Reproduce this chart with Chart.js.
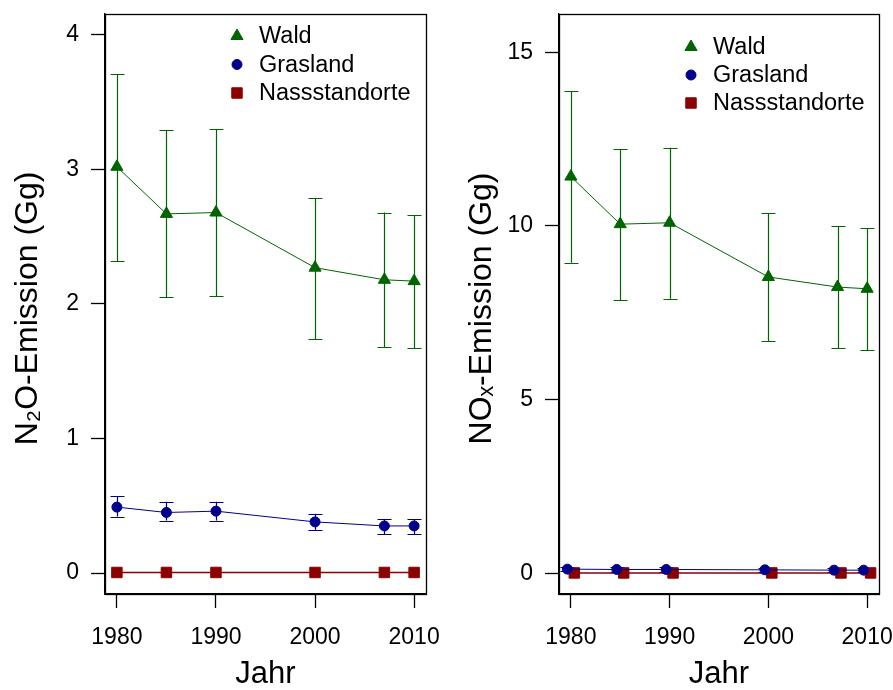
<!DOCTYPE html>
<html>
<head>
<meta charset="utf-8">
<script src="https://cdn.jsdelivr.net/npm/chart.js@4.4.1/dist/chart.umd.min.js"></script>
<style>
html, body { margin: 0; padding: 0; background: #fff; overflow: hidden; }
#leftBox { position: absolute; left: 0; top: 0; width: 446px; height: 690px; }
#rightBox { position: absolute; left: 446px; top: 0; width: 447px; height: 690px; }
</style>
</head>
<body>
<div id="leftBox"><canvas id="n2oGraph"></canvas></div>
<div id="rightBox"><canvas id="noxGraph"></canvas></div>
<script>
// Jahre der Inventur
const years = [1980, 1985, 1990, 2000, 2007, 2010];
const seriesNames = ['Wald', 'Grasland', 'Nassstandorte'];

// N2O (Gg)
const n2oWald = [3.02, 2.67, 2.68, 2.27, 2.18, 2.17];
const n2oWaldLow = [2.32, 2.05, 2.06, 1.74, 1.68, 1.67];
const n2oWaldHigh = [3.71, 3.29, 3.30, 2.79, 2.68, 2.66];
const n2oGras = [0.49, 0.45, 0.46, 0.38, 0.35, 0.35];
const n2oGrasLow = [0.42, 0.39, 0.39, 0.32, 0.29, 0.29];
const n2oGrasHigh = [0.57, 0.53, 0.53, 0.44, 0.40, 0.40];
const n2oNass = [0.004, 0.004, 0.004, 0.004, 0.004, 0.004];

// NOx (Gg)
const noxWald = [11.42, 10.05, 10.09, 8.53, 8.24, 8.19];
const noxWaldLow = [8.94, 7.87, 7.90, 6.69, 6.48, 6.43];
const noxWaldHigh = [13.88, 12.20, 12.25, 10.36, 10.00, 9.94];
const noxGras = [0.12, 0.11, 0.11, 0.10, 0.09, 0.09];
const noxGrasLow = [0.06, 0.05, 0.05, 0.05, 0.04, 0.04];
const noxGrasHigh = [0.18, 0.17, 0.17, 0.15, 0.14, 0.14];
const noxNass = [0.01, 0.01, 0.01, 0.01, 0.01, 0.01];

const yTicksN2O = [0, 1, 2, 3, 4];
const yTicksNOx = [0, 5, 10, 15];
const xTicks = [1980, 1990, 2000, 2010];

const FONT = '"Liberation Sans", Arial, Helvetica, sans-serif';
const waldColor = '#006400';
const grasColor = '#00008b';
const nassColor = '#8b0000';

// Fehlerbalken
const errorBars = {
    id: 'errorBars',
    beforeDatasetsDraw(chart) {
        const ctx = chart.ctx;
        const xs = chart.scales.x, ys = chart.scales.y;
        ctx.save();
        chart.data.datasets.forEach(ds => {
            if (!ds.errLow) return;
            ctx.strokeStyle = ds.borderColor;
            ctx.lineWidth = 1.2;
            ds.data.forEach((p, i) => {
                const x = Math.round(xs.getPixelForValue(p.x)) + 0.5;
                const y1 = ys.getPixelForValue(ds.errLow[i]);
                const y2 = ys.getPixelForValue(ds.errHigh[i]);
                ctx.beginPath();
                ctx.moveTo(x, y1); ctx.lineTo(x, y2);
                ctx.moveTo(x - 7, Math.round(y1) + 0.5); ctx.lineTo(x + 7, Math.round(y1) + 0.5);
                ctx.moveTo(x - 7, Math.round(y2) + 0.5); ctx.lineTo(x + 7, Math.round(y2) + 0.5);
                ctx.stroke();
            });
        });
        ctx.restore();
    }
};

// Rahmen um den Plotbereich
const plotBox = {
    id: 'plotBox',
    afterDraw(chart) {
        const a = chart.chartArea, ctx = chart.ctx;
        ctx.save();
        ctx.strokeStyle = '#000';
        ctx.lineWidth = 1.3;
        ctx.strokeRect(Math.round(a.left) + 0.5, Math.round(a.top) + 0.5,
            Math.round(a.right - a.left), Math.round(a.bottom - a.top));
        ctx.restore();
    }
};

// Legende im Plotbereich
const insideLegend = {
    id: 'insideLegend',
    afterDraw(chart, args, opts) {
        const ctx = chart.ctx;
        ctx.save();
        ctx.font = '23.5px ' + FONT;
        ctx.textBaseline = 'middle';
        ctx.textAlign = 'left';
        chart.data.datasets.forEach((ds, i) => {
            const y = opts.y + i * opts.gap;
            ctx.fillStyle = ds.backgroundColor;
            ctx.strokeStyle = ds.borderColor;
            Chart.helpers.drawPoint(ctx, {
                pointStyle: ds.pointStyle, radius: ds.pointRadius,
                borderWidth: 1, rotation: 0
            }, opts.x, y);
            ctx.fillStyle = '#000';
            ctx.fillText(ds.label, opts.x + 22, y + 1);
        });
        ctx.restore();
    }
};

function makeSeries(vals, dodge) {
    return vals.map((v, i) => ({x: years[i] + dodge, y: v}));
}

function makeDatasets(wald, waldLow, waldHigh, gras, grasLow, grasHigh, nass, dodge) {
    return [{
        label: seriesNames[0],
        data: makeSeries(wald, 0),
        errLow: waldLow, errHigh: waldHigh,
        borderColor: waldColor, backgroundColor: waldColor,
        pointStyle: 'triangle', pointRadius: 7, borderWidth: 1, pointBorderWidth: 1
    }, {
        label: seriesNames[1],
        data: makeSeries(gras, -dodge),
        errLow: grasLow, errHigh: grasHigh,
        borderColor: grasColor, backgroundColor: grasColor,
        pointStyle: 'circle', pointRadius: 5, borderWidth: 1, pointBorderWidth: 1
    }, {
        label: seriesNames[2],
        data: makeSeries(nass, dodge),
        borderColor: nassColor, backgroundColor: nassColor,
        pointStyle: 'rect', pointRadius: 7.4, borderWidth: 1.5, pointBorderWidth: 1
    }];
}

function CreateEmissionChart(canvasId, datasets, yMin, yMax, yTicks, yTitle, yWidth, padRight, titlePad, legendPos) {
    return new Chart(document.getElementById(canvasId), {
        type: 'line',
        data: {datasets: datasets},
        plugins: [errorBars, plotBox, insideLegend],
        options: {
            responsive: true,
            maintainAspectRatio: false,
            animation: false,
            events: [],
            layout: {padding: {top: 14, right: padRight, bottom: 0, left: 0}},
            scales: {
                x: {
                    type: 'linear',
                    min: 1978.8,
                    max: 2011.2,
                    afterFit: s => {
                        s.height = 96;
                        s.paddingLeft = 0; s.paddingRight = 0;
                        s.paddingTop = 0; s.paddingBottom = 0;
                    },
                    afterBuildTicks: s => { s.ticks = xTicks.map(v => ({value: v})); },
                    ticks: {
                        callback: v => String(v),
                        color: '#000',
                        padding: 16,
                        maxRotation: 0,
                        font: {family: FONT, size: 23}
                    },
                    grid: {drawOnChartArea: false, tickLength: 14, tickColor: '#000', tickWidth: 1.3},
                    border: {display: true, color: '#000', width: 1.3},
                    title: {
                        display: true,
                        text: 'Jahr',
                        color: '#000',
                        padding: {top: 0, bottom: 0},
                        font: {family: FONT, size: 31, lineHeight: 1}
                    }
                },
                y: {
                    min: yMin,
                    max: yMax,
                    afterFit: s => {
                        s.width = yWidth;
                        s.paddingLeft = 0; s.paddingRight = 0;
                        s.paddingTop = 0; s.paddingBottom = 0;
                    },
                    afterBuildTicks: s => { s.ticks = yTicks.map(v => ({value: v})); },
                    ticks: {
                        color: '#000',
                        padding: 12,
                        font: {family: FONT, size: 23}
                    },
                    grid: {drawOnChartArea: false, tickLength: 14, tickColor: '#000', tickWidth: 1.3},
                    border: {display: true, color: '#000', width: 1.3},
                    title: {
                        display: true,
                        text: yTitle,
                        color: '#000',
                        padding: {top: titlePad, bottom: 0},
                        font: {family: FONT, size: 32, lineHeight: 1}
                    }
                }
            },
            plugins: {
                legend: {display: false},
                tooltip: {enabled: false},
                insideLegend: legendPos
            }
        }
    });
}

CreateEmissionChart('n2oGraph',
    makeDatasets(n2oWald, n2oWaldLow, n2oWaldHigh, n2oGras, n2oGrasLow, n2oGrasHigh, n2oNass, 0),
    -0.156, 4.156, yTicksN2O, 'N\u2082O-Emission (Gg) ', 105, 20, 12, {x: 237, y: 36, gap: 28.5});

CreateEmissionChart('noxGraph',
    makeDatasets(noxWald, noxWaldLow, noxWaldHigh, noxGras, noxGrasLow, noxGrasHigh, noxNass, 0.35),
    -0.596, 16.10, yTicksNOx, 'NO\u2093-Emission (Gg) ', 113, 14, 20, {x: 245, y: 47, gap: 28});
</script>
</body>
</html>
